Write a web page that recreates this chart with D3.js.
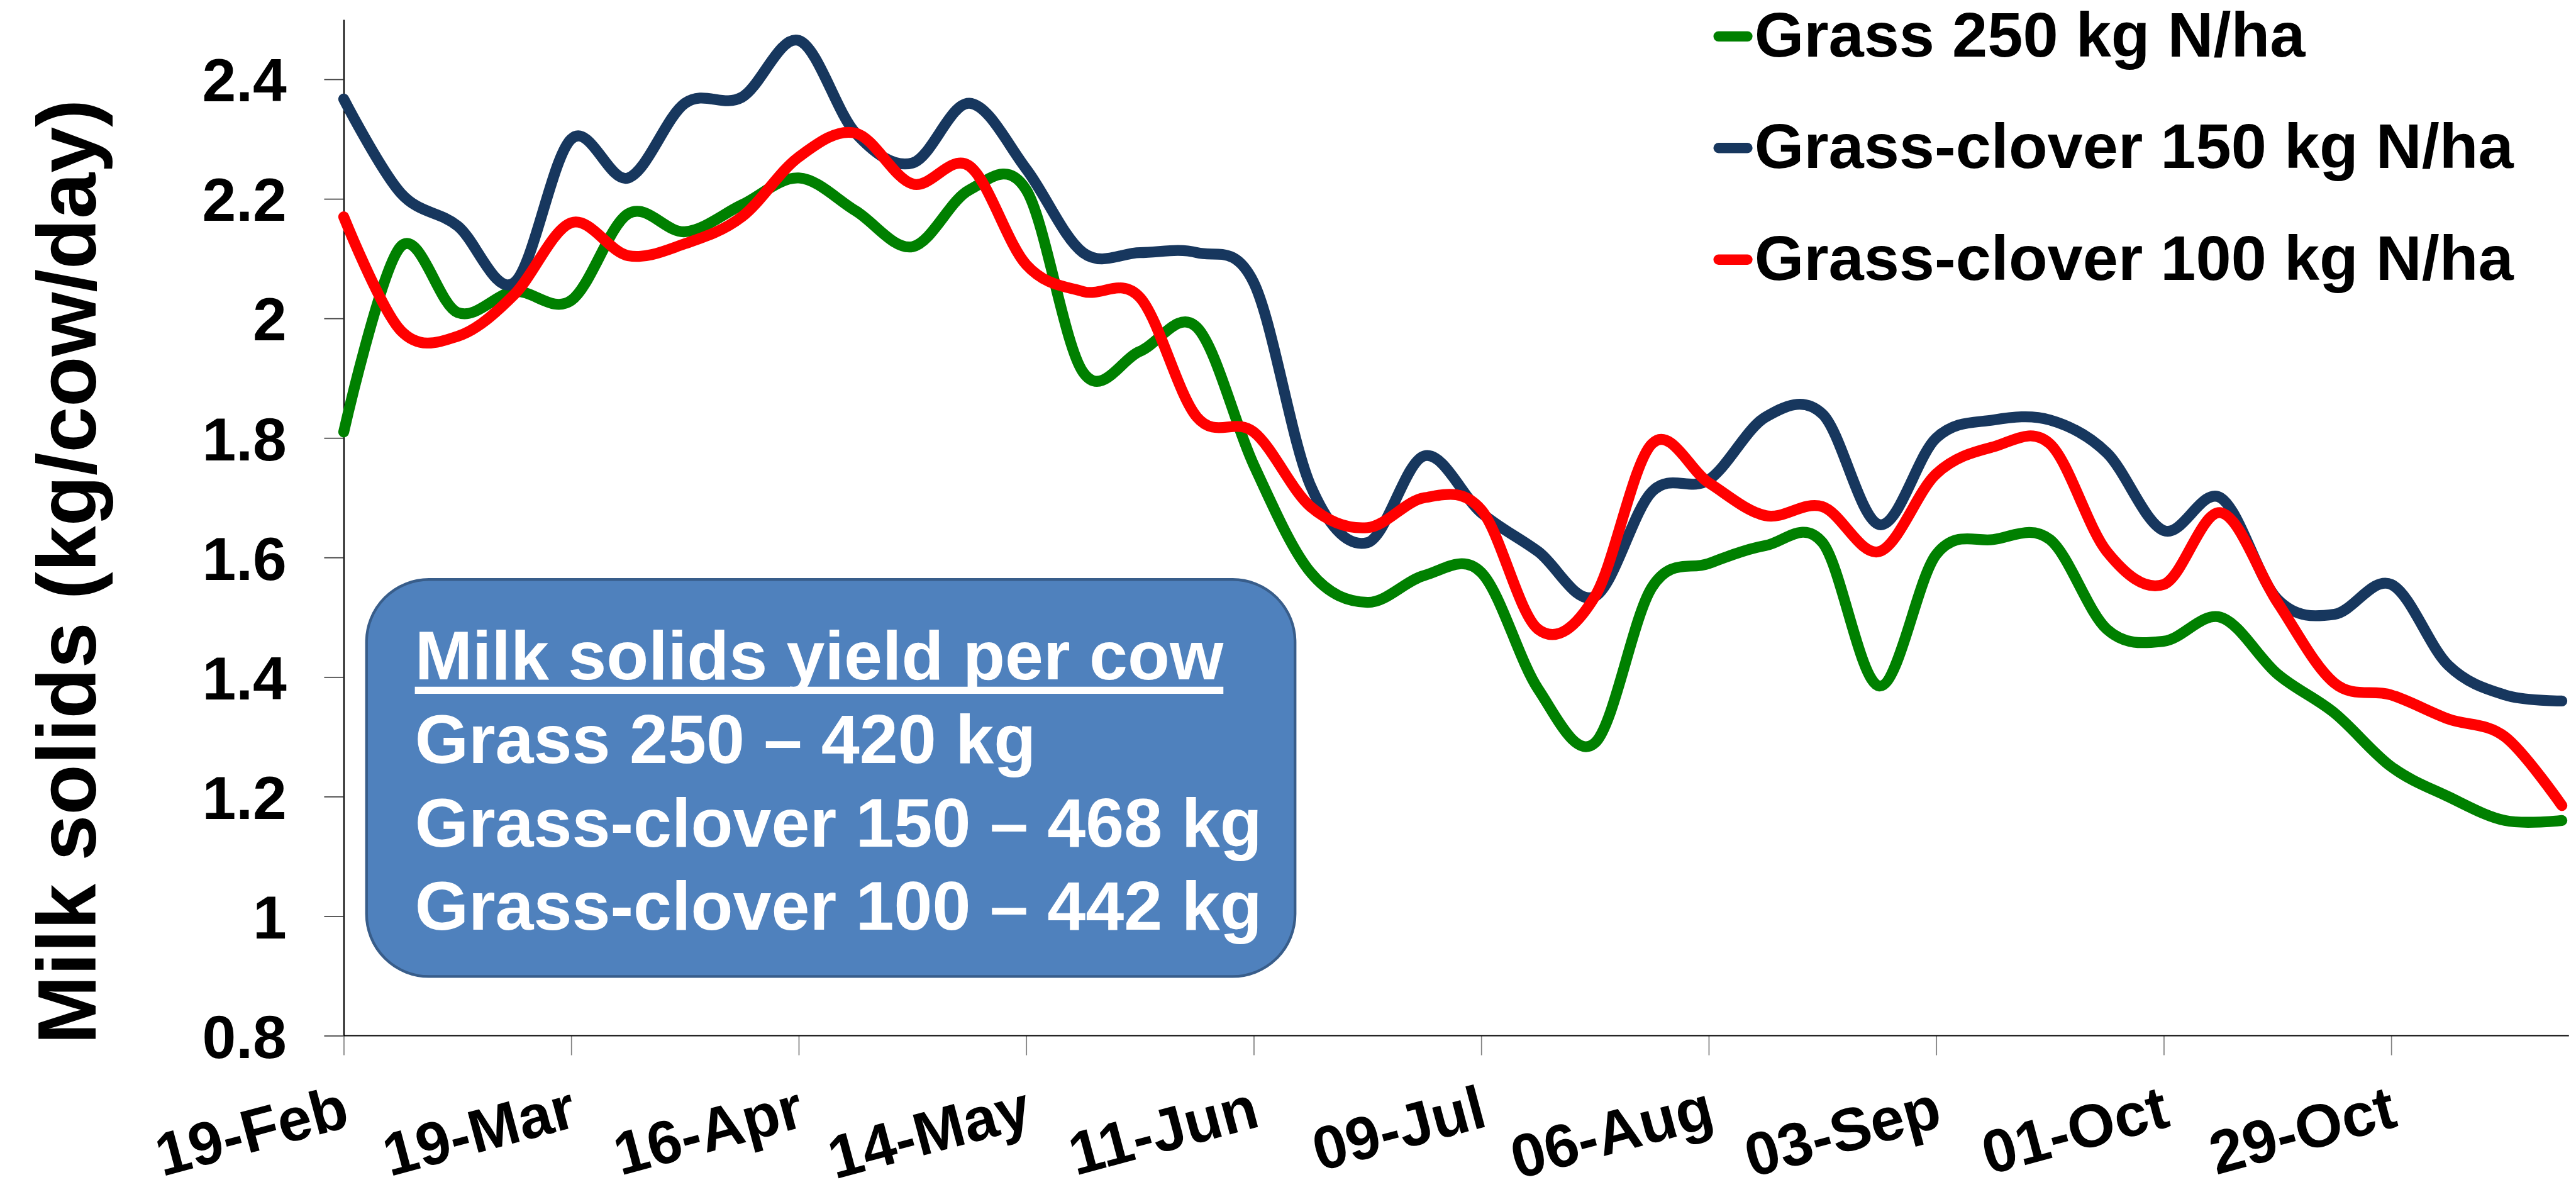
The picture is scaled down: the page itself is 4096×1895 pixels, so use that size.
<!DOCTYPE html>
<html>
<head>
<meta charset="utf-8">
<script src="https://cdn.jsdelivr.net/npm/d3@7"></script>
<style>
  html, body { margin: 0; padding: 0; background: #fff; }
  svg { display: block; }
  text { font-family: "Liberation Sans", Arial, sans-serif; font-weight: bold; }
</style>
</head>
<body>
<div id="chart"></div>
<script>
// weekly dates (x categories)
var dates = ["2013-02-19","2013-02-26","2013-03-05","2013-03-12","2013-03-19","2013-03-26",
  "2013-04-02","2013-04-09","2013-04-16","2013-04-23","2013-04-30","2013-05-07","2013-05-14",
  "2013-05-21","2013-05-28","2013-06-04","2013-06-11","2013-06-18","2013-06-25","2013-07-02",
  "2013-07-09","2013-07-16","2013-07-23","2013-07-30","2013-08-06","2013-08-13","2013-08-20",
  "2013-08-27","2013-09-03","2013-09-10","2013-09-17","2013-09-24","2013-10-01","2013-10-08",
  "2013-10-15","2013-10-22","2013-10-29","2013-11-05","2013-11-12","2013-11-19"];

var grass250 = [1.81, 2.12, 2.01, 2.045, 2.03, 2.175, 2.145, 2.19, 2.235, 2.18,
  2.12, 2.215, 2.215, 1.91, 1.945, 1.985, 1.755, 1.575, 1.525, 1.57,
  1.575, 1.38, 1.29, 1.55, 1.59, 1.62, 1.625, 1.385, 1.605, 1.63,
  1.63, 1.48, 1.46, 1.50, 1.405, 1.34, 1.25, 1.20, 1.16, 1.16];

var clover150 = [2.367, 2.21, 2.155, 2.06, 2.30, 2.235, 2.36, 2.37, 2.465, 2.31,
  2.26, 2.36, 2.25, 2.11, 2.11, 2.11, 2.06, 1.72, 1.625, 1.77,
  1.675, 1.61, 1.535, 1.71, 1.73, 1.835, 1.84, 1.655, 1.80, 1.83,
  1.83, 1.775, 1.645, 1.70, 1.53, 1.505, 1.555, 1.42, 1.37, 1.36];

var clover100 = [2.17, 1.98, 1.97, 2.04, 2.16, 2.105, 2.125, 2.17, 2.27, 2.31,
  2.225, 2.255, 2.09, 2.045, 2.035, 1.835, 1.81, 1.685, 1.65, 1.70,
  1.68, 1.48, 1.535, 1.79, 1.725, 1.67, 1.685, 1.61, 1.74, 1.785,
  1.79, 1.61, 1.555, 1.675, 1.525, 1.39, 1.37, 1.33, 1.30, 1.185];

var seriesNames = ["Grass 250 kg N/ha", "Grass-clover 150 kg N/ha", "Grass-clover 100 kg N/ha"];
var seriesColours = ["#008000", "#17375E", "#FF0000"];

var tickDates = ["2013-02-19","2013-03-19","2013-04-16","2013-05-14","2013-06-11",
  "2013-07-09","2013-08-06","2013-09-03","2013-10-01","2013-10-29"];
var yTicks = [0.8, 1, 1.2, 1.4, 1.6, 1.8, 2, 2.2, 2.4];

var boxLines = ["Milk solids yield per cow", "Grass 250 \u2013 420 kg",
  "Grass-clover 150 \u2013 468 kg", "Grass-clover 100 \u2013 442 kg"];

var yTitle = "Milk solids (kg/cow/day)";

// drawn in the reference's 4744 x 2195 space, then scaled down to fit
var width = 4096,
    height = 1895,
    k = width / 4744;

var parseDate = d3.timeParse("%Y-%m-%d");
var fmt = d3.timeFormat("%d-%b");

var svg = d3.select("#chart").append("svg")
    .attr("width", width)
    .attr("height", height);

var g = svg.append("g").attr("transform", "scale(" + k + ")");

var x = d3.scaleTime()
  .domain([parseDate(dates[0]), parseDate(dates[dates.length - 1])])
  .range([633, 4718]);

var y = d3.scaleLinear()
  .domain([0.8, 2.5])
  .range([1907, 36]);

// y axis
var yAxis = g.append("g")
    .attr("transform", "translate(633,0)")
    .call(d3.axisLeft(y).tickValues(yTicks).tickSize(36).tickSizeOuter(0)
      .tickPadding(69).tickFormat(d3.format("~g")));
yAxis.select(".domain").attr("stroke", "#000").attr("stroke-width", 2.5);
yAxis.selectAll(".tick line").attr("stroke", "#404040").attr("stroke-width", 2);
yAxis.selectAll(".tick text")
    .attr("font-size", 112)
    .attr("fill", "#000")
    .attr("dy", "0.36em");

// x axis
var xAxis = g.append("g")
    .attr("transform", "translate(0,1907)")
    .call(d3.axisBottom(x).tickValues(tickDates.map(parseDate)).tickSize(36)
      .tickSizeOuter(0).tickFormat(fmt));
xAxis.select(".domain").remove();
xAxis.append("line")
    .attr("x1", x.range()[0]).attr("x2", x.range()[1] + 13)
    .attr("stroke", "#000").attr("stroke-width", 2.5);
xAxis.selectAll(".tick line").attr("stroke", "#808080").attr("stroke-width", 2);
xAxis.selectAll(".tick text")
    .attr("font-size", 112)
    .attr("fill", "#000")
    .attr("y", 0).attr("dy", 0)
    .attr("text-anchor", "end")
    .attr("transform", "translate(14,166) rotate(-15)");

// y title
g.append("text")
    .attr("transform", "translate(176,1053) rotate(-90)")
    .attr("text-anchor", "middle")
    .attr("font-size", 152)
    .text(yTitle);

// lines
var line = d3.line()
    .x(function(d) { return x(d.date); })
    .y(function(d) { return y(d.value); })
    .curve(d3.curveCardinal.tension(0));

[grass250, clover150, clover100].forEach(function(vals, i) {
  var pts = vals.map(function(v, j) { return { date: parseDate(dates[j]), value: v }; });
  g.append("path")
      .datum(pts)
      .attr("fill", "none")
      .attr("stroke", seriesColours[i])
      .attr("stroke-width", 20)
      .attr("stroke-linecap", "round")
      .attr("stroke-linejoin", "round")
      .attr("d", line);
});

// legend
var legend = g.selectAll(".legend")
  .data(seriesNames)
  .enter().append("g")
    .attr("class", "legend")
    .attr("transform", function(d, i) { return "translate(0," + (i * 205.5) + ")"; });
legend.append("line")
    .attr("x1", 3165).attr("x2", 3218)
    .attr("y1", 67).attr("y2", 67)
    .attr("stroke", function(d, i) { return seriesColours[i]; })
    .attr("stroke-width", 19)
    .attr("stroke-linecap", "round");
legend.append("text")
    .attr("x", 3231).attr("y", 104)
    .attr("font-size", 117)
    .attr("fill", "#000")
    .text(function(d) { return d; });

// yield box
var box = g.append("g");
box.append("rect")
    .attr("x", 675).attr("y", 1067)
    .attr("width", 1710).attr("height", 731)
    .attr("rx", 115).attr("ry", 115)
    .attr("fill", "#4F81BD")
    .attr("stroke", "#385D8A")
    .attr("stroke-width", 5);
var boxText = box.selectAll(".boxline")
  .data(boxLines)
  .enter().append("text")
    .attr("class", "boxline")
    .attr("x", 764)
    .attr("y", function(d, i) { return 1251 + i * 153.7; })
    .attr("font-size", 127)
    .attr("fill", "#fff")
    .text(function(d) { return d; });
var w0 = boxText.node().getComputedTextLength();
box.append("line")
    .attr("x1", 764).attr("x2", 764 + w0)
    .attr("y1", 1271).attr("y2", 1271)
    .attr("stroke", "#fff")
    .attr("stroke-width", 13);
</script>
</body>
</html>
